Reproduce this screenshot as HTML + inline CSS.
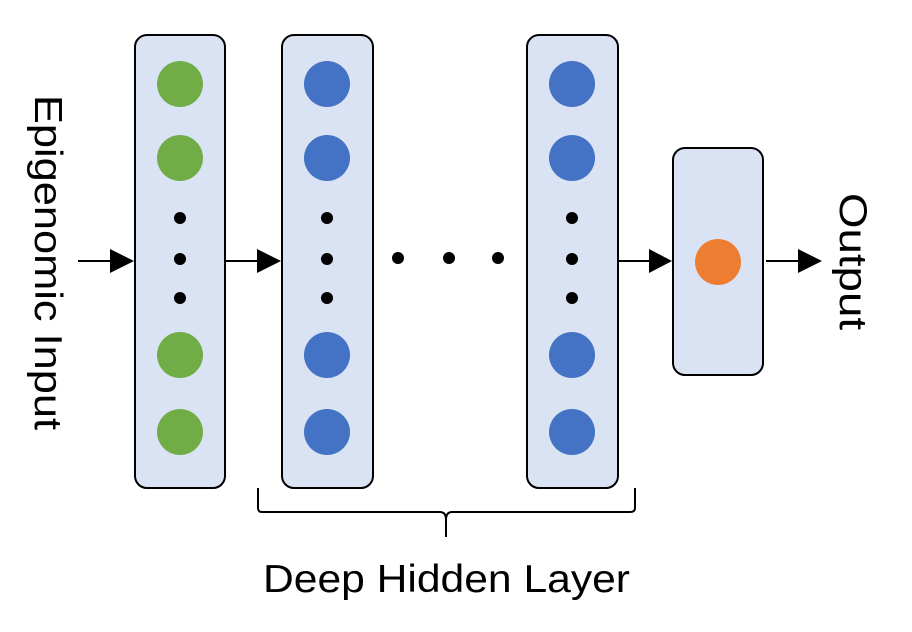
<!DOCTYPE html>
<html><head><style>body{margin:0;background:#fff}svg{display:block}</style></head><body>
<svg width="912" height="632" viewBox="0 0 912 632" xmlns="http://www.w3.org/2000/svg" font-family="'Liberation Sans',sans-serif">
<g fill="#dae3f3" stroke="#000" stroke-width="2">
<rect x="135" y="35" width="90" height="453" rx="12"/>
<rect x="282" y="35" width="91" height="453" rx="12"/>
<rect x="527" y="35" width="91" height="453" rx="12"/>
<rect x="673" y="148" width="90" height="227" rx="12"/>
</g>
<g fill="#70ad47"><circle cx="180" cy="84" r="23"/><circle cx="180" cy="158" r="23"/><circle cx="180" cy="355" r="23"/><circle cx="180" cy="432" r="23"/></g>
<g fill="#4472c4"><circle cx="327" cy="84" r="23"/><circle cx="327" cy="158" r="23"/><circle cx="327" cy="355" r="23"/><circle cx="327" cy="432" r="23"/>
<circle cx="572" cy="84" r="23"/><circle cx="572" cy="158" r="23"/><circle cx="572" cy="355" r="23"/><circle cx="572" cy="432" r="23"/></g>
<circle cx="718" cy="262" r="23" fill="#ed7d31"/>
<g fill="#000">
<circle cx="180" cy="218" r="6"/><circle cx="180" cy="259" r="6"/><circle cx="180" cy="298" r="6"/>
<circle cx="327" cy="218" r="6"/><circle cx="327" cy="259" r="6"/><circle cx="327" cy="298" r="6"/>
<circle cx="572" cy="218" r="6"/><circle cx="572" cy="259" r="6"/><circle cx="572" cy="298" r="6"/>
<circle cx="398" cy="258" r="6"/><circle cx="449" cy="258" r="6"/><circle cx="498" cy="258" r="6"/>
</g>
<g stroke="#000" stroke-width="2">
<line x1="78" y1="261" x2="112" y2="261"/><line x1="226" y1="261" x2="259" y2="261"/>
<line x1="619" y1="261" x2="651" y2="261"/><line x1="766" y1="261" x2="800" y2="261"/>
</g>
<g fill="#000">
<polygon points="110,249 134,261 110,273"/><polygon points="257,249 281,261 257,273"/>
<polygon points="649,249 672,261 649,273"/><polygon points="798,249 822,261 798,273"/>
</g>
<path d="M258,488 L258,508 Q258,512 262,512 L440,512 Q446,512 446,520 L446,537 M446,537 L446,520 Q446,512 452,512 L630,512 Q635,512 635,508 L635,488" fill="none" stroke="#000" stroke-width="2"/>
<text x="263" y="592" font-size="39" textLength="367" lengthAdjust="spacingAndGlyphs">Deep Hidden Layer</text>
<text transform="translate(35,95) rotate(90)" font-size="39" textLength="335" lengthAdjust="spacingAndGlyphs">Epigenomic Input</text>
<text transform="translate(840,193) rotate(90)" font-size="39" textLength="137" lengthAdjust="spacingAndGlyphs">Output</text>
</svg>
</body></html>
